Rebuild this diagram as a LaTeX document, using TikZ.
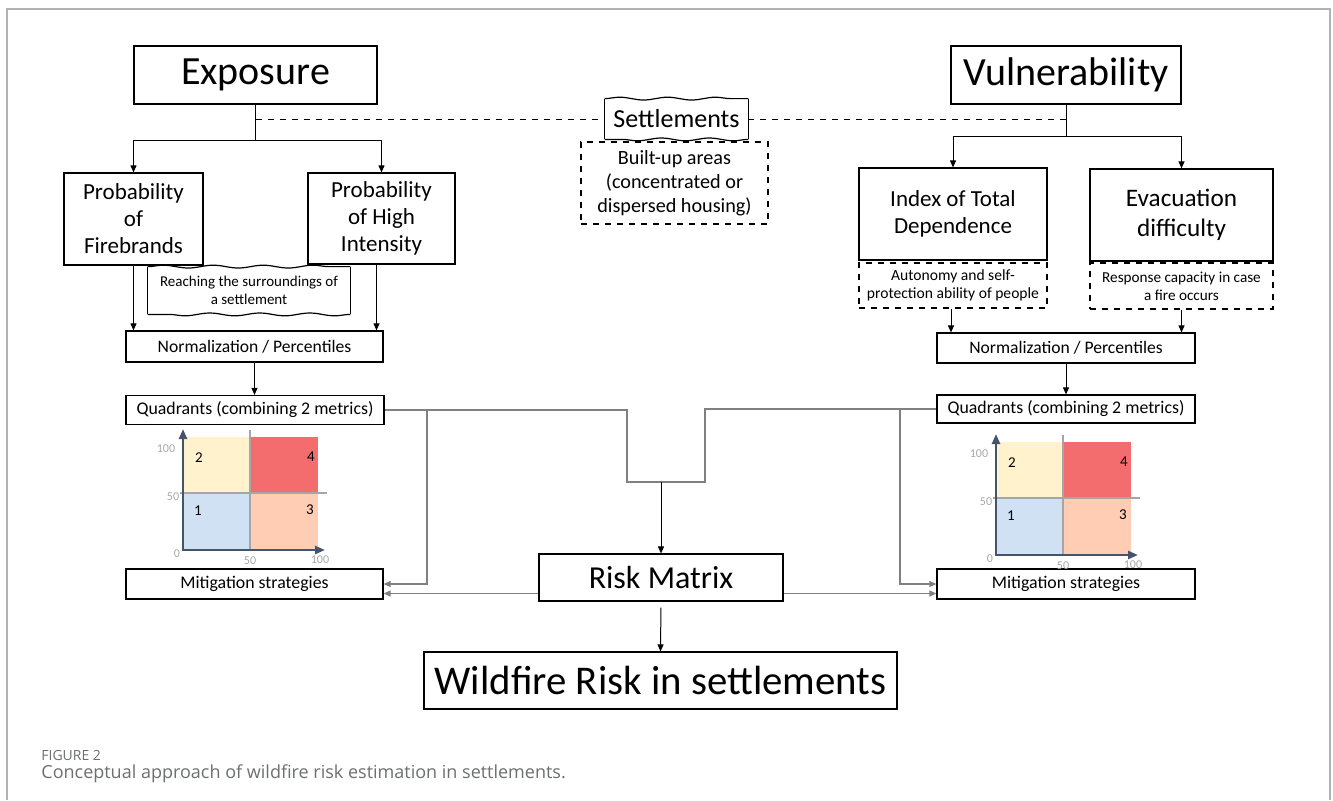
\documentclass[tikz,border=0pt]{standalone}
\usepackage{fontspec}
\setmainfont{Carlito}
\newfontfamily\capfont{Open Sans}
\usepackage{tikz}
\usetikzlibrary{arrows.meta,decorations.pathmorphing,calc}

\definecolor{axisc}{HTML}{44546A}
\definecolor{gridc}{HTML}{A6A6A6}
\definecolor{qblue}{HTML}{CFE1F2}
\definecolor{qyel}{HTML}{FFF2CC}
\definecolor{qred}{HTML}{F36C6E}
\definecolor{qsal}{HTML}{FFCCB4}
\definecolor{capc}{HTML}{6D6E71}

\tikzset{
	box/.style={draw, line width=.6pt, align=center, inner sep=0pt},
	dbox/.style={box, dashed},
	wbox/.style={align=center, inner sep=0pt},
	wave/.style={line width=.6pt, decorate, decoration={snake, segment length=#1, amplitude=.7pt}},
	arr/.style={-{Triangle[length=3.5pt,width=3pt]}, line width=.5pt},
	gline/.style={line width=.6pt, draw=black!50},
	garr/.style={gline, -{Triangle[length=3.5pt,width=3pt]}},
	qnum/.style={font=\fontsize{7.5}{9}\selectfont},
	tick/.style={text=gridc, font=\fontsize{6}{7}\selectfont, inner sep=0pt},
}

\begin{document}
\begin{tikzpicture}[x=.5pt, y=-.5pt]
	\useasboundingbox (0,0) rectangle (1333,800);
	\draw[draw=black!30, line width=1pt] (7,800) -- (7,9) -- (1330,9) -- (1330,800);

	% top level
	\node[box, minimum width=121.5pt, minimum height=29pt, font=\fontsize{20}{24}\selectfont] (expo) at (255.5,75) {Exposure};
	\node[box, minimum width=115pt, minimum height=29pt, font=\fontsize{20}{24}\selectfont] (vuln) at (1066,75) {Vulnerability};
	\node[wbox, minimum width=71.5pt, minimum height=20pt, font=\fontsize{13}{15}\selectfont] (sett) at (676.5,119) {Settlements};
	\node[dbox, minimum width=93.5pt, minimum height=41pt, font=\fontsize{10.1}{12}\selectfont] (built) at (674.5,183) {Built-up areas\\(concentrated or\\dispersed housing)};

	% exposure side
	\node[box, minimum width=69.5pt, minimum height=46pt, font=\fontsize{11.5}{13.5}\selectfont] (pfb) at (133.5,219) {Probability\\of\\Firebrands};
	\node[box, minimum width=73.5pt, minimum height=45.5pt, font=\fontsize{11.5}{13.5}\selectfont] (phi) at (381.5,218.5) {Probability\\of High\\Intensity};
	\node[wbox, minimum width=101pt, minimum height=23.5pt, font=\fontsize{7.5}{9}\selectfont] (reach) at (249,290.5) {Reaching the surroundings of\\a settlement};
	\node[box, minimum width=128.5pt, minimum height=15.5pt, font=\fontsize{8.8}{10}\selectfont] (normL) at (254.5,346.5) {Normalization / Percentiles};
	\node[box, minimum width=129pt, minimum height=14.5pt, font=\fontsize{8.9}{10}\selectfont] (quadL) at (255,410) {Quadrants (combining 2 metrics)};
	\node[box, minimum width=128.5pt, minimum height=15pt, font=\fontsize{8.9}{10}\selectfont] (mitL) at (254.5,584) {Mitigation strategies};

	% vulnerability side
	\node[box, minimum width=94pt, minimum height=46pt, font=\fontsize{11.5}{13.5}\selectfont] (itd) at (953,214) {Index of Total\\Dependence};
	\node[dbox, minimum width=94pt, minimum height=22.5pt, font=\fontsize{7.8}{9}\selectfont] (itdD) at (953,285.5) {Autonomy and self-\\protection ability of people};
	\node[box, minimum width=91.5pt, minimum height=46pt, font=\fontsize{12.6}{15}\selectfont] (evac) at (1181.5,215) {Evacuation\\difficulty};
	\node[dbox, minimum width=91.5pt, minimum height=23pt, font=\fontsize{7.6}{9}\selectfont] (evacD) at (1181.5,286) {Response capacity in case\\a fire occurs};
	\node[box, minimum width=129pt, minimum height=15pt, font=\fontsize{8.8}{10}\selectfont] (normR) at (1066,348) {Normalization / Percentiles};
	\node[box, minimum width=129pt, minimum height=14pt, font=\fontsize{8.9}{10}\selectfont] (quadR) at (1066,409) {Quadrants (combining 2 metrics)};
	\node[box, minimum width=129pt, minimum height=15pt, font=\fontsize{8.9}{10}\selectfont] (mitR) at (1066,584) {Mitigation strategies};

	% centre
	\node[box, minimum width=122pt, minimum height=23.5pt, font=\fontsize{16}{18}\selectfont] (risk) at (661,577.5) {Risk Matrix};
	\node[box, minimum width=236.5pt, minimum height=28.5pt, font=\fontsize{20.4}{24}\selectfont] (wild) at (660.5,680.5) {Wildfire Risk in settlements};

	% wavy outlines
	\foreach \n/\s in {sett/24pt, reach/25pt} {
		\draw[wave=\s] (\n.north west) -- (\n.north east);
		\draw[wave=\s] (\n.south east) -- (\n.south west);
		\draw[line width=.6pt] (\n.north west) -- (\n.south west);
		\draw[line width=.6pt] (\n.north east) -- (\n.south east);
	}

	% quadrant charts
	\foreach \dx/\dy/\k in {0/0/l, 813/5/r} {
		\begin{scope}[shift={(\dx,\dy)}]
			\fill[qblue] (183,493) rectangle (250,550);
			\fill[qyel] (183,437) rectangle (250,493);
			\fill[qred] (250,437) rectangle (318,493);
			\fill[qsal] (250,493) rectangle (318,550);
			\draw[gridc, line width=1pt] (250,430) -- (250,550);
			\draw[gridc, line width=1pt] (180,493) -- (327,493);
			\draw[axisc, line width=1.2pt, {Triangle[length=5pt,width=4pt]}-{Triangle[length=5pt,width=4pt]}] (183,429) -- (183,550) -- (325,550);
			\node[qnum] (two\k) at (199,458) {2};
			\node[qnum] (four\k) at (311,457) {4};
			\node[qnum] (one\k) at (198,511) {1};
			\node[qnum] (three\k) at (310,510) {3};
			\node[tick] (ya\k) at (166,449) {100};
			\node[tick] (yb\k) at (173,497) {50};
			\node[tick] (yc\k) at (177,554) {0};
			\node[tick] (xa\k) at (250,561) {50};
			\node[tick] (xb\k) at (320,560) {100};
		\end{scope}
	}

	% connectors
	\coordinate (ej) at (expo.south |- 0,140);
	\coordinate (vj) at (vuln.south |- 0,136);
	\coordinate (phiS) at ([xshift=-2.5pt]phi.south);
	\draw[line width=.5pt] (expo.south) -- (ej);
	\draw[arr] (ej) -| (pfb.north);
	\draw[arr] (ej) -| (phi.north);
	\draw[line width=.5pt] (vuln.south) -- (vj);
	\draw[arr] (vj) -| (itd.north);
	\draw[arr] (vj) -| (evac.north);
	\draw[dashed, line width=.5pt] (expo.south |- sett.west) -- (sett.west);
	\draw[dashed, line width=.5pt] (sett.east) -- (vuln.south |- sett.east);
	\draw[arr] (pfb.south) -- (pfb.south |- normL.north);
	\draw[arr] (phiS) -- (phiS |- normL.north);
	\draw[arr] (normL.south) -- (normL.south |- quadL.north);
	\draw[arr] ([xshift=-1pt]itdD.south) -- ([xshift=-1pt]itdD.south |- normR.north);
	\draw[arr] (evacD.south) -- (evacD.south |- normR.north);
	\draw[arr] (normR.south) -- (normR.south |- quadR.north);

	\coordinate (jl) at (627,482);
	\coordinate (jr) at (705,482);
	\coordinate (jm) at (661,482);
	\coordinate (bl) at (427,0);
	\coordinate (br) at (900,0);
	\coordinate (rl) at ([yshift=-8pt]risk.west);
	\coordinate (rr) at ([yshift=-8pt]risk.east);
	\draw[gline] (quadL.east) -| (jl) -- (jr) |- (quadR.west);
	\draw[arr] (jm) -- (risk.north);
	\draw[garr] (quadL.east -| bl) |- (mitL.east);
	\draw[garr] (quadR.west -| br) |- (mitR.west);
	\draw[garr] (rl) -- (rl -| mitL.east);
	\draw[garr] (rr) -- (rr -| mitR.west);
	\draw[arr, shorten <=3pt] (risk.south) -- (wild.north);

	% caption
	\node[anchor=west, inner sep=0pt, text=capc, font=\capfont\fontsize{7}{8}\selectfont] (fig) at (41,755) {FIGURE 2};
	\node[anchor=west, inner sep=0pt, text=capc, font=\capfont\fontsize{9}{11}\selectfont] (cap) at (41,774) {Conceptual approach of wildfire risk estimation in settlements.};
\end{tikzpicture}
\end{document}
